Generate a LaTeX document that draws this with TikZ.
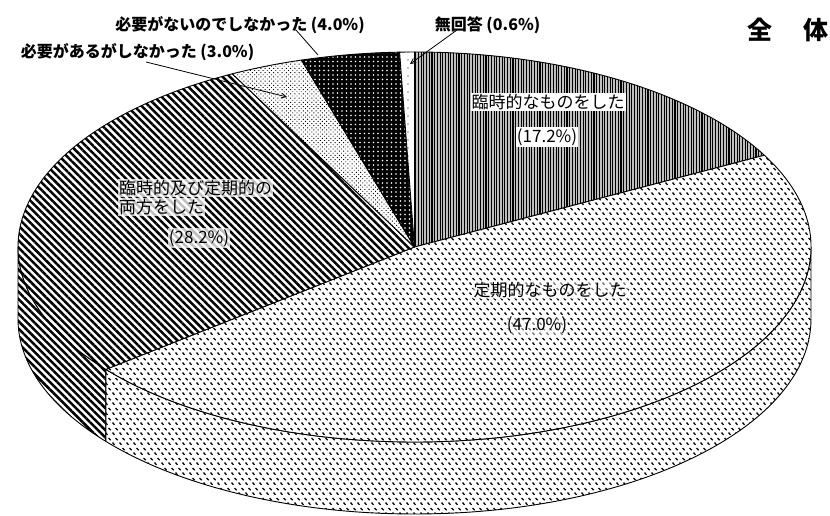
\documentclass[tikz,border=0pt]{standalone}
\usepackage{fontspec}
\newfontfamily\jp{Noto Sans CJK JP}
\usetikzlibrary{patterns.meta,arrows.meta}
\pgfdeclarepattern{
  name=ticks,
  type=uncolored,
  bottom left={\pgfpoint{0pt}{0pt}},
  top right={\pgfpoint{7pt}{10pt}},
  tile size={\pgfpoint{7pt}{10pt}},
  code={
    \pgfsetlinewidth{1.4pt}
    \pgfpathmoveto{\pgfpoint{0.6pt}{3.7pt}}\pgfpathlineto{\pgfpoint{2.9pt}{1.4pt}}
    \pgfpathmoveto{\pgfpoint{4.1pt}{8.7pt}}\pgfpathlineto{\pgfpoint{6.4pt}{6.4pt}}
    \pgfusepath{stroke}
  }
}
\def\cx{414.5}
\def\cy{269}
\def\rx{396.5}
\def\ry{195}
\def\dd{72}
\newcommand\topsector[3]{%
  \path[#1] (\cx,\cy) -- ({\cx+\rx*cos(#2)},{\cy+\ry*sin(#2)})
    arc[start angle=#2, end angle=#3, x radius=\rx pt, y radius=\ry pt] -- cycle;}
\newcommand\sideface[3]{%
  \path[#1] ({\cx+\rx*cos(#2)},{\cy+\ry*sin(#2)})
    arc[start angle=#2, end angle=#3, x radius=\rx pt, y radius=\ry pt]
    -- ++(0,-\dd)
    arc[start angle=#3, end angle=#2, x radius=\rx pt, y radius=\ry pt] -- cycle;}
\begin{document}
\begin{tikzpicture}[x=1pt,y=1pt,
  rim/.style={draw=black,line width=0.9pt,line join=round},
  p172/.style={rim,preaction={fill=gray!50},pattern={Lines[angle=90,distance=2.7pt,line width=1.1pt]},pattern color=black},
  p470/.style={rim,preaction={fill=white},pattern=ticks,pattern color=black},
  p282/.style={rim,preaction={fill=white},pattern={Lines[angle=-45,distance=5.2pt,line width=2.5pt]},pattern color=black},
  p030/.style={rim,preaction={fill=white},pattern={Dots[distance=3pt,radius=0.65pt,angle=45]},pattern color=black},
  p040/.style={rim,preaction={fill=black},pattern={Dots[distance=4.5pt,radius=0.9pt]},pattern color=white},
  p006/.style={rim,preaction={fill=white},pattern={Dots[distance=8pt,radius=0.7pt]},pattern color=black},
  inlbl/.style={font={\jp\fontsize{17}{19}\selectfont},inner sep=1pt},
  boxlbl/.style={inlbl,fill=white},
  halolbl/.style={inlbl,fill=white,fill opacity=0.75,text opacity=1},
  softlbl/.style={inlbl,fill=white,fill opacity=0.45,text opacity=1},
  outlbl/.style={font={\jp\bfseries\fontsize{16}{18}\selectfont},inner sep=1pt},
  leader/.style={draw=black,line width=0.8pt},
  tipped/.style={leader,-{Straight Barb[length=5pt,width=5pt]}},
]
\useasboundingbox (0,0) rectangle (830,516);
% side faces
\sideface{p282}{-180}{-141.12}
\sideface{p470}{-141.12}{0}
% top faces
\topsector{p172}{90}{28.08}
\topsector{p470}{28.08}{-141.12}
\topsector{p282}{-141.12}{-242.64}
\topsector{p030}{117.36}{106.56}
\topsector{p040}{106.56}{92.16}
\topsector{p006}{92.16}{90}
% labels inside
\node[boxlbl] (l172a) at (548,414) {臨時的なものをした};
\node[boxlbl] (l172b) at (547,379) {(17.2\%)};
\node[halolbl,anchor=west] (l282a) at (118,328) {臨時的及び定期的の};
\node[halolbl,anchor=west] (l282b) at (118,309) {両方をした};
\node[halolbl] (l282c) at (199,278) {(28.2\%)};
\node[softlbl] (l470a) at (550,226) {定期的なものをした};
\node[softlbl] (l470b) at (537,191) {(47.0\%)};
% labels outside
\node[outlbl] (t40) at (240,491) {必要がないのでしなかった (4.0\%)};
\node[outlbl] (t30) at (137.5,464) {必要があるがしなかった (3.0\%)};
\node[outlbl] (t06) at (487.5,491) {無回答 (0.6\%)};
\node[font={\jp\bfseries\fontsize{25}{28}\selectfont},inner sep=0pt] (title) at (787.5,486) {全\hspace{1.24em}体};
% leaders
\coordinate (a40s) at (296,486);
\coordinate (a40e) at (318,461);
\coordinate (a30s) at (146,454);
\coordinate (a30e) at (287,419);
\coordinate (a06s) at (457,486);
\coordinate (a06e) at (410,452);
\draw[leader] (a40s) -- (a40e);
\draw[tipped] (a30s) -- (a30e);
\draw[tipped] (a06s) -- (a06e);
\end{tikzpicture}
\end{document}
